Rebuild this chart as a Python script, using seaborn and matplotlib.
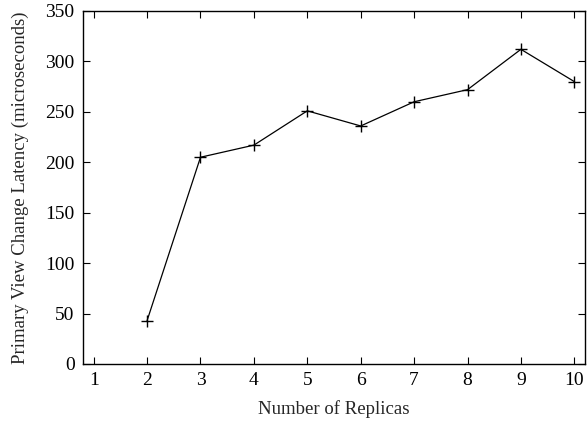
import pandas as pd
import seaborn as sns
import matplotlib.pyplot as plt

replicas = [2, 3, 4, 5, 6, 7, 8, 9, 10]
latency = [43, 205, 217, 251, 236, 260, 272, 312, 280]

sns.set_style("ticks")
plt.rcParams["font.family"] = ["Liberation Serif", "DejaVu Serif"]
plt.rcParams["font.size"] = 13.5

df = pd.DataFrame({"Number of Replicas": replicas, "latency": latency})

fig = plt.figure(figsize=(5.87, 4.23), dpi=100)
ax = fig.add_axes([0.1414, 0.1395, 0.8552, 0.8345])
sns.lineplot(df, x="Number of Replicas", y="latency", ax=ax, color="black",
             linewidth=0.9, marker="+", markersize=8, markeredgewidth=1.0,
             markeredgecolor="black")

ax.set_xlim(0.8, 10.2)
ax.set_ylim(0, 350)
ax.set_xticks(range(1, 11))
ax.set_yticks(range(0, 351, 50))
ax.tick_params(direction="in", top=True, right=True, length=5, width=0.8,
               labelsize=14, colors="black", pad=6)
for s in ax.spines.values():
    s.set_linewidth(1.0)
    s.set_color("black")
ax.set_xlabel("Number of Replicas", fontsize=13.5, labelpad=8)
ax.set_ylabel("Primary View Change Latency (microseconds)", fontsize=13.5, labelpad=12)

fig.savefig("out.png", dpi=100)
